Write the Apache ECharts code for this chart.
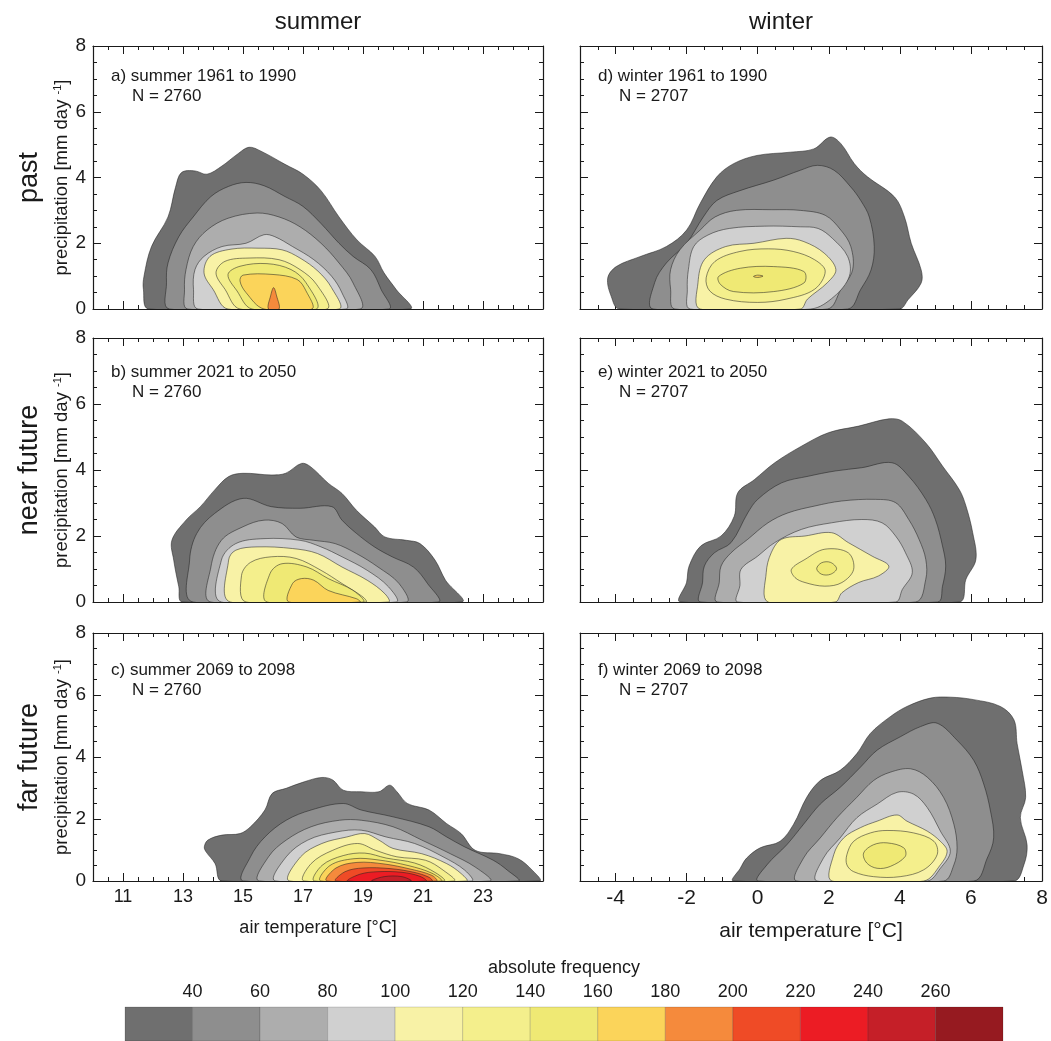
<!DOCTYPE html>
<html>
<head>
<meta charset="utf-8">
<title>Temperature / precipitation frequency</title>
<script src="https://cdn.jsdelivr.net/npm/echarts@6/dist/echarts.min.js"></script>
<style>
  html, body { margin: 0; padding: 0; background: #fff; }
  #chart { width: 1051px; height: 1041px; }
</style>
</head>
<body>
<div id="chart"></div>
<script>
// frequency levels (lower bound of each band) and colours
const levels = [20, 40, 60, 80, 100, 120, 140, 160, 180, 200, 220, 240, 260]
const levelColors = ['#6f6f6f', '#8e8e8e', '#adadad', '#d0d0d0', '#f8f2a6', '#f4ef8c', '#efe974',
  '#fbd45a', '#f58a3c', '#ef4b26', '#ec1c24', '#c51f28', '#961a20']

// axis ticks
const summerTicks = [11, 13, 15, 17, 19, 21, 23]
const winterTicks = [-4, -2, 0, 2, 4, 6, 8]

// contour polygons: [level, [[air temperature, precipitation], ...]]
const summerPast = [
  [20, [[11.86, 0], [11.68, 0.6], [11.7, 1.0], [11.95, 1.9], [12.5, 2.8], [12.75, 3.7], [12.95, 4.15], [13.4, 4.2], [13.8, 4.1], [14.3, 4.35], [14.8, 4.7], [15.2, 4.92], [15.6, 4.8], [16.4, 4.4], [17.0, 4.1], [17.6, 3.6], [18.2, 2.8], [18.8, 2.1], [19.4, 1.6], [19.7, 1.1], [20.1, 0.6], [20.56, 0]]],
  [40, [[12.55, 0], [12.45, 0.8], [12.5, 1.4], [12.86, 2.2], [13.34, 2.8], [13.93, 3.42], [14.52, 3.73], [15.1, 3.85], [15.7, 3.75], [16.4, 3.42], [17.0, 3.12], [17.6, 2.6], [18.2, 2.0], [18.67, 1.6], [19.26, 1.2], [19.6, 0.6], [19.85, 0]]],
  [60, [[13.16, 0], [13.05, 0.6], [13.1, 1.2], [13.34, 1.9], [13.8, 2.4], [14.5, 2.76], [15.47, 2.92], [16.2, 2.8], [16.9, 2.5], [17.6, 2.0], [18.2, 1.4], [18.67, 0.79], [18.9, 0]]],
  [80, [[13.5, 0], [13.35, 0.6], [13.4, 1.2], [13.7, 1.6], [14.3, 1.9], [15.1, 2.0], [15.7, 2.26], [16.06, 2.2], [16.65, 1.9], [17.36, 1.5], [17.95, 1.0], [18.3, 0.49], [18.43, 0]]],
  [100, [[14.5, 0], [14.0, 0.6], [13.7, 1.1], [13.9, 1.6], [14.6, 1.82], [15.5, 1.85], [16.3, 1.8], [16.9, 1.55], [17.5, 1.15], [17.95, 0.65], [18.2, 0]]],
  [120, [[14.9, 0], [14.4, 0.6], [14.1, 1.1], [14.4, 1.45], [15.2, 1.55], [16.2, 1.5], [16.9, 1.2], [17.45, 0.75], [17.8, 0]]],
  [140, [[15.3, 0], [14.8, 0.55], [14.5, 1.05], [14.9, 1.3], [15.8, 1.38], [16.6, 1.2], [17.1, 0.8], [17.45, 0]]],
  [160, [[15.7, 0], [15.1, 0.5], [14.9, 0.85], [15.0, 1.03], [16.0, 1.05], [16.8, 0.9], [17.1, 0.55], [17.3, 0]]],
  [180, [[15.85, 0], [15.92, 0.4], [16.02, 0.65], [16.12, 0.4], [16.2, 0]]]
]
const summerNear = [
  [20, [[12.98, 0], [12.86, 0.46], [12.69, 1.27], [12.63, 1.87], [13.1, 2.48], [13.58, 2.89], [14.05, 3.39], [14.52, 3.8], [15.0, 3.9], [15.94, 3.85], [16.42, 3.9], [16.95, 4.2], [17.25, 4.1], [17.84, 3.6], [18.3, 3.29], [18.78, 2.78], [19.38, 2.28], [19.73, 1.97], [20.44, 1.87], [20.9, 1.77], [21.4, 1.27], [21.75, 0.66], [22.28, 0]]],
  [40, [[13.34, 0], [13.22, 1.27], [13.46, 2.08], [14.05, 2.68], [15.0, 3.14], [15.94, 2.89], [16.9, 2.84], [17.96, 2.89], [18.3, 2.48], [18.78, 2.08], [19.38, 1.67], [19.97, 1.37], [20.68, 1.06], [21.15, 0.56], [21.5, 0]]],
  [60, [[13.93, 0], [13.93, 1.06], [14.28, 1.87], [15.0, 2.28], [15.7, 2.48], [16.3, 2.38], [16.77, 1.97], [17.36, 1.87], [18.07, 1.77], [18.78, 1.47], [19.5, 1.06], [20.2, 0.56], [20.44, 0]]],
  [80, [[14.28, 0], [14.28, 1.27], [14.76, 1.77], [15.7, 1.92], [16.9, 1.87], [17.6, 1.67], [18.3, 1.37], [19.14, 0.96], [19.85, 0.46], [20.1, 0]]],
  [100, [[14.58, 0], [14.52, 1.27], [14.76, 1.57], [15.47, 1.67], [16.65, 1.62], [17.48, 1.47], [18.3, 1.06], [19.14, 0.66], [19.73, 0.25], [19.85, 0]]],
  [120, [[15.1, 0], [14.95, 0.8], [15.25, 1.2], [15.94, 1.37], [16.77, 1.32], [17.6, 0.96], [18.3, 0.56], [19.0, 0.15], [19.1, 0]]],
  [140, [[15.8, 0], [15.9, 0.86], [16.3, 1.16], [17.13, 1.06], [17.84, 0.71], [18.67, 0.35], [19.0, 0]]],
  [160, [[16.53, 0], [16.65, 0.56], [16.95, 0.71], [17.36, 0.66], [17.84, 0.35], [18.78, 0.1], [18.9, 0]]]
]
const summerFar = [
  [20, [[14.3, 0], [14.07, 0.56], [13.77, 0.94], [13.71, 1.1], [13.83, 1.32], [14.3, 1.48], [14.9, 1.53], [15.25, 1.75], [15.73, 2.29], [15.97, 2.82], [16.44, 2.99], [17.04, 3.2], [17.63, 3.34], [17.99, 3.26], [18.34, 2.93], [18.94, 2.88], [19.53, 2.88], [19.89, 3.09], [20.13, 2.88], [20.48, 2.5], [21.2, 2.29], [21.79, 1.85], [22.27, 1.53], [22.74, 0.99], [23.57, 0.88], [24.17, 0.72], [24.64, 0.35], [24.88, 0]]],
  [40, [[15.02, 0], [15.25, 0.78], [15.73, 1.42], [16.44, 1.96], [17.27, 2.29], [18.34, 2.5], [18.94, 2.29], [20.0, 2.07], [21.2, 1.75], [21.79, 1.42], [22.39, 1.1], [23.34, 0.67], [23.81, 0.35], [24.17, 0]]],
  [60, [[15.55, 0], [15.85, 0.78], [16.44, 1.32], [17.27, 1.75], [18.22, 1.96], [18.94, 1.96], [20.0, 1.75], [20.96, 1.32], [21.91, 0.88], [22.74, 0.45], [23.22, 0]]],
  [80, [[16.09, 0], [16.44, 0.78], [17.16, 1.32], [18.1, 1.58], [18.94, 1.64], [19.77, 1.42], [20.72, 1.21], [21.67, 0.78], [22.39, 0.35], [22.62, 0]]],
  [100, [[16.56, 0], [16.92, 0.78], [17.63, 1.21], [18.46, 1.42], [19.06, 1.53], [19.53, 1.32], [20.0, 1.05], [20.96, 0.88], [21.79, 0.56], [22.27, 0.24], [22.45, 0]]],
  [120, [[17.04, 0], [17.27, 0.56], [17.99, 0.99], [18.82, 1.21], [19.42, 0.99], [20.13, 0.78], [21.08, 0.67], [21.67, 0.35], [22.03, 0]]],
  [140, [[17.39, 0], [17.63, 0.5], [18.34, 0.82], [19.06, 0.9], [19.77, 0.74], [20.72, 0.58], [21.43, 0.26], [21.7, 0]]],
  [160, [[17.6, 0], [17.9, 0.5], [18.7, 0.72], [19.5, 0.68], [20.5, 0.5], [21.3, 0.25], [21.6, 0]]],
  [180, [[17.8, 0], [18.1, 0.42], [18.8, 0.6], [19.7, 0.55], [20.6, 0.38], [21.3, 0.18], [21.45, 0]]],
  [200, [[18.1, 0], [18.4, 0.3], [19.0, 0.42], [19.9, 0.4], [20.7, 0.28], [21.2, 0.12], [21.3, 0]]],
  [220, [[18.5, 0], [18.9, 0.22], [19.5, 0.3], [20.3, 0.28], [20.9, 0.15], [21.1, 0]]],
  [240, [[19.3, 0], [19.7, 0.14], [20.3, 0.14], [20.6, 0]]]
]
const winterPast = [
  [20, [[-3.89, 0], [-4.12, 0.38], [-4.22, 0.94], [-3.98, 1.29], [-3.32, 1.59], [-2.57, 1.9], [-2.0, 2.4], [-1.62, 3.21], [-1.15, 4.02], [-0.68, 4.42], [-0.02, 4.67], [0.92, 4.77], [1.58, 4.87], [2.04, 5.23], [2.34, 5.03], [2.72, 4.42], [3.09, 4.02], [3.85, 3.41], [4.13, 2.8], [4.32, 2.0], [4.6, 1.19], [4.6, 0.79], [4.23, 0.28], [3.99, 0]]],
  [40, [[-2.94, 0], [-2.9, 0.8], [-2.57, 1.4], [-2.0, 2.0], [-1.53, 2.8], [-1.15, 3.3], [-0.5, 3.6], [0.45, 3.92], [1.2, 4.22], [1.68, 4.37], [2.15, 4.22], [2.62, 3.71], [2.9, 3.3], [3.14, 2.8], [3.28, 1.9], [3.19, 1.19], [2.9, 0.6], [2.53, 0]]],
  [60, [[-2.33, 0], [-2.45, 0.6], [-2.45, 1.2], [-2.19, 1.8], [-1.62, 2.4], [-1.2, 2.8], [-0.6, 3.0], [0.4, 3.02], [1.2, 3.0], [1.9, 2.85], [2.34, 2.4], [2.62, 1.9], [2.67, 1.19], [2.34, 0.59], [1.96, 0]]],
  [80, [[-1.9, 0], [-1.98, 0.6], [-1.95, 1.2], [-1.8, 1.9], [-1.4, 2.25], [-0.8, 2.45], [0.2, 2.52], [1.2, 2.5], [1.7, 2.45], [2.1, 2.15], [2.53, 1.6], [2.58, 1.0], [2.15, 0.38], [1.49, 0]]],
  [100, [[-1.62, 0], [-1.68, 0.8], [-1.5, 1.5], [-0.9, 1.9], [-0.1, 2.0], [0.8, 2.15], [1.3, 2.05], [1.87, 1.7], [2.2, 1.2], [1.96, 0.8], [1.4, 0.3], [1.2, 0]]],
  [120, [[-1.45, 0.95], [-1.2, 1.45], [-0.5, 1.75], [0.3, 1.83], [1.0, 1.75], [1.6, 1.5], [1.9, 1.15], [1.6, 0.6], [0.8, 0.3], [0, 0.2], [-0.9, 0.3], [-1.35, 0.55]]],
  [140, [[-1.1, 0.99], [-0.49, 1.24], [0.45, 1.29], [1.3, 1.14], [1.3, 0.79], [0.45, 0.53], [-0.68, 0.53], [-1.05, 0.75]]],
  [160, [[-0.12, 0.99], [0, 1.03], [0.15, 1.0], [0, 0.96]]]
]
const winterNear = [
  [20, [[-2.17, 0], [-2.0, 0.6], [-1.93, 1.09], [-1.6, 1.7], [-1.03, 2.0], [-0.66, 2.6], [-0.56, 3.31], [-0.09, 3.71], [0.48, 4.22], [1.23, 4.72], [1.99, 5.13], [2.84, 5.33], [3.69, 5.55], [4.07, 5.48], [4.73, 4.82], [5.2, 4.12], [5.67, 3.41], [5.86, 2.91], [6.05, 2.1], [6.14, 1.29], [5.86, 0.69], [5.67, 0]]],
  [40, [[-1.6, 0], [-1.55, 0.6], [-1.5, 1.09], [-1.22, 1.49], [-0.75, 1.8], [-0.28, 2.7], [0, 3.11], [0.67, 3.61], [1.42, 3.81], [2.18, 3.97], [2.93, 4.07], [3.78, 4.22], [4.25, 3.81], [4.73, 3.11], [5.0, 2.5], [5.2, 1.7], [5.29, 1.09], [5.2, 0.48], [5.06, 0]]],
  [60, [[-1.13, 0], [-1.08, 0.6], [-1.03, 1.09], [-0.75, 1.49], [-0.28, 1.9], [0.29, 2.4], [0.85, 2.7], [1.61, 2.91], [2.36, 3.06], [3.31, 3.11], [3.88, 3.01], [4.25, 2.5], [4.54, 1.9], [4.73, 1.29], [4.73, 0.69], [4.44, 0]]],
  [80, [[-0.56, 0], [-0.5, 0.5], [-0.47, 0.99], [0, 1.39], [0.48, 1.8], [1.23, 2.2], [2.08, 2.4], [2.93, 2.5], [3.5, 2.4], [3.88, 2.0], [4.16, 1.49], [4.35, 0.89], [4.07, 0.38], [3.88, 0]]],
  [100, [[0.29, 0], [0.24, 0.89], [0.38, 1.49], [0.67, 1.9], [1.33, 2.0], [2.08, 2.1], [2.55, 1.8], [3.22, 1.39], [3.69, 1.09], [3.4, 0.79], [2.84, 0.59], [2.37, 0.28], [2.18, 0]]],
  [120, [[0.95, 0.99], [1.33, 1.29], [1.89, 1.6], [2.55, 1.49], [2.7, 0.99], [2.37, 0.59], [1.89, 0.48], [1.33, 0.59], [1.05, 0.74]]],
  [140, [[1.66, 1.01], [1.8, 1.19], [2.05, 1.2], [2.22, 1.01], [2.05, 0.84], [1.8, 0.84]]]
]
const winterFar = [
  [20, [[-0.68, 0], [-0.49, 0.41], [-0.31, 0.74], [0.07, 1.07], [0.63, 1.28], [1.01, 1.83], [1.38, 2.7], [1.76, 3.24], [2.32, 3.57], [2.79, 4.11], [3.17, 4.76], [3.73, 5.3], [4.2, 5.63], [4.86, 5.9], [5.42, 5.93], [6.08, 5.85], [6.83, 5.63], [7.21, 5.2], [7.3, 4.43], [7.44, 3.57], [7.54, 2.7], [7.39, 2.04], [7.58, 1.17], [7.49, 0.52], [7.21, 0]]],
  [40, [[0.02, 0], [0.26, 0.52], [0.82, 1.17], [1.29, 1.83], [1.76, 2.48], [2.32, 3.02], [2.89, 3.67], [3.36, 4.22], [4.01, 4.65], [4.58, 4.98], [5.05, 5.09], [5.61, 4.54], [6.08, 3.89], [6.36, 3.13], [6.55, 2.26], [6.64, 1.39], [6.46, 0.74], [6.08, 0]]],
  [60, [[1.1, 0], [1.29, 0.74], [1.76, 1.39], [2.23, 2.04], [2.79, 2.7], [3.26, 3.24], [3.73, 3.51], [4.3, 3.62], [4.77, 3.35], [5.23, 2.7], [5.52, 1.83], [5.61, 1.07], [5.52, 0.52], [5.23, 0]]],
  [80, [[1.67, 0], [1.85, 0.74], [2.32, 1.39], [2.79, 2.04], [3.36, 2.48], [3.92, 2.86], [4.39, 2.8], [4.77, 2.37], [5.14, 1.61], [5.42, 0.96], [5.14, 0.41], [4.77, 0]]],
  [100, [[2.09, 0], [2.14, 0.85], [2.42, 1.39], [2.89, 1.72], [3.36, 1.93], [3.92, 2.13], [4.2, 1.93], [4.77, 1.61], [5.14, 1.28], [5.33, 0.96], [5.14, 0.52], [4.67, 0]]],
  [120, [[2.51, 0.85], [2.7, 1.28], [3.17, 1.55], [3.64, 1.63], [4.39, 1.55], [4.96, 1.28], [5.05, 0.85], [4.67, 0.36], [4.01, 0.14], [3.26, 0.14], [2.7, 0.3], [2.51, 0.52]]],
  [140, [[2.98, 0.9], [3.26, 1.17], [3.64, 1.23], [4.11, 1.07], [4.15, 0.79], [3.73, 0.47], [3.36, 0.41], [3.07, 0.58]]]
]

const panels = [
  { col: 0, row: 0, data: summerPast, label: 'a) summer 1961 to 1990', n: 'N = 2760' },
  { col: 0, row: 1, data: summerNear, label: 'b) summer 2021 to 2050', n: 'N = 2760' },
  { col: 0, row: 2, data: summerFar, label: 'c) summer 2069 to 2098', n: 'N = 2760' },
  { col: 1, row: 0, data: winterPast, label: 'd) winter 1961 to 1990', n: 'N = 2707' },
  { col: 1, row: 1, data: winterNear, label: 'e) winter 2021 to 2050', n: 'N = 2707' },
  { col: 1, row: 2, data: winterFar, label: 'f) winter 2069 to 2098', n: 'N = 2707' }
]
const rowNames = ['past', 'near future', 'far future']

// layout
const FONT = "'Liberation Sans', Arial, Helvetica, sans-serif"
const INK = '#1a1a1a'
const colLeft = [93, 580]
const colWidth = [450, 462]
const rowTop = [46, 338, 633]
const rowHeight = [263, 264, 248]

const line = { color: INK, width: 1.2 }
const grids = []
const xAxes = []
const yAxes = []
const series = []
const graphics = []

panels.forEach((p, g) => {
  const summer = p.col === 0
  const range = summer ? [10, 25] : [-5, 8]
  const majors = summer ? summerTicks : winterTicks
  const bottom = p.row === 2
  const labelSize = summer ? 18 : 21

  grids.push({ left: colLeft[p.col], top: rowTop[p.row], width: colWidth[p.col], height: rowHeight[p.row] })

  const xIdx = xAxes.length
  ;['bottom', 'top'].forEach(pos => {
    // half-degree ticks + frame line
    xAxes.push({
      type: 'value', gridIndex: g, position: pos, min: range[0], max: range[1], interval: 0.5,
      axisLine: { show: true, onZero: false, lineStyle: line },
      axisTick: { show: true, inside: true, length: 4, lineStyle: { color: INK, width: 1 } },
      axisLabel: { show: false }, splitLine: { show: false }
    })
    // labelled ticks
    const named = pos === 'bottom' && bottom
    xAxes.push({
      type: 'value', gridIndex: g, position: pos, min: range[0], max: range[1], interval: 1,
      axisLine: { show: false, onZero: false },
      axisTick: { show: true, inside: true, length: 8, customValues: majors, lineStyle: { color: INK, width: 1 } },
      axisLabel: { show: named, customValues: majors, fontSize: labelSize, fontFamily: FONT, color: INK, margin: 7 },
      splitLine: { show: false },
      name: named ? 'air temperature [°C]' : '',
      nameLocation: 'middle', nameGap: summer ? 38 : 40,
      nameTextStyle: { fontSize: labelSize, fontFamily: FONT, color: INK }
    })
  })

  const yIdx = yAxes.length
  ;['left', 'right'].forEach(pos => {
    const named = pos === 'left' && summer
    yAxes.push({
      type: 'value', gridIndex: g, position: pos, min: 0, max: 8, interval: 2,
      axisLine: { show: true, onZero: false, lineStyle: line },
      axisTick: { show: true, inside: true, length: 8, lineStyle: { color: INK, width: 1 } },
      minorTick: { show: true, splitNumber: 4, length: 4, lineStyle: { color: INK, width: 1 } },
      axisLabel: { show: named, fontSize: 19, fontFamily: FONT, color: INK, margin: 7 },
      splitLine: { show: false }, minorSplitLine: { show: false },
      name: named ? 'precipitation [mm day {sup|-1}]' : '',
      nameLocation: 'middle', nameGap: 21,
      nameTextStyle: {
        fontSize: 18.5, fontFamily: FONT, color: INK,
        rich: { sup: { fontSize: 11, fontFamily: FONT, color: INK, verticalAlign: 'top', padding: [0, 0, 8, 0] } }
      }
    })
  })

  const contours = p.data
  series.push({
    type: 'custom',
    coordinateSystem: 'cartesian2d',
    xAxisIndex: xIdx,
    yAxisIndex: yIdx,
    clip: true,
    silent: true,
    data: contours.map(c => c[0]),
    renderItem: (params, api) => {
      const c = contours[params.dataIndex]
      const pts = c[1].map(pt => api.coord(pt))
      return {
        type: 'polygon',
        shape: { points: pts, smooth: 0.35 },
        style: {
          fill: levelColors[levels.indexOf(c[0])],
          stroke: 'rgba(30,30,30,0.75)',
          lineWidth: 0.7
        }
      }
    }
  })

  // panel caption
  const tx = colLeft[p.col] + 18
  const ty = rowTop[p.row] + [30, 34, 37][p.row]
  graphics.push({ type: 'text', x: tx, y: ty, style: { text: p.label, fontSize: 17, fontFamily: FONT, fill: INK, verticalAlign: 'middle' } })
  graphics.push({ type: 'text', x: tx + 21, y: ty + 20, style: { text: p.n, fontSize: 17, fontFamily: FONT, fill: INK, verticalAlign: 'middle' } })
})

// column headers and row names
graphics.push({ type: 'text', x: 318, y: 22, style: { text: 'summer', fontSize: 24, fontFamily: FONT, fill: INK, align: 'center', verticalAlign: 'middle' } })
graphics.push({ type: 'text', x: 781, y: 22, style: { text: 'winter', fontSize: 24, fontFamily: FONT, fill: INK, align: 'center', verticalAlign: 'middle' } })
rowNames.forEach((name, r) => {
  graphics.push({
    type: 'text', x: 30, y: rowTop[r] + rowHeight[r] / 2, rotation: Math.PI / 2,
    style: { text: name, fontSize: 27, fontFamily: FONT, fill: INK, align: 'center', verticalAlign: 'middle' }
  })
})

// colour bar
const cbGrid = grids.length
grids.push({ left: 125, top: 1007, width: 878, height: 40 })
const cbX = xAxes.length
xAxes.push({
  type: 'value', gridIndex: cbGrid, position: 'top', min: 20, max: 280, interval: 20,
  axisLine: { show: false, onZero: false }, axisTick: { show: false }, splitLine: { show: false },
  axisLabel: {
    fontSize: 18, fontFamily: FONT, color: INK, margin: 6,
    formatter: v => (v === 20 || v === 280) ? '' : String(v)
  },
  name: 'absolute frequency', nameLocation: 'middle', nameGap: 30,
  nameTextStyle: { fontSize: 18, fontFamily: FONT, color: INK }
})
const cbY = yAxes.length
yAxes.push({ type: 'value', gridIndex: cbGrid, min: 0, max: 1, show: false })
series.push({
  type: 'custom',
  coordinateSystem: 'cartesian2d',
  xAxisIndex: cbX,
  yAxisIndex: cbY,
  silent: true,
  data: levels.map(lv => [lv, lv + 20]),
  encode: { x: [0, 1] },
  renderItem: (params, api) => {
    const a = api.coord([api.value(0), 0])
    const b = api.coord([api.value(1), 1])
    return {
      type: 'rect',
      shape: { x: a[0], y: b[1], width: b[0] - a[0], height: a[1] - b[1] },
      style: { fill: levelColors[params.dataIndex], stroke: 'rgba(0,0,0,0.15)', lineWidth: 1 }
    }
  }
})

const chart = echarts.init(document.getElementById('chart'))
chart.setOption({
  animation: false,
  backgroundColor: '#fff',
  grid: grids,
  xAxis: xAxes,
  yAxis: yAxes,
  series: series,
  graphic: graphics
})
</script>
</body>
</html>
